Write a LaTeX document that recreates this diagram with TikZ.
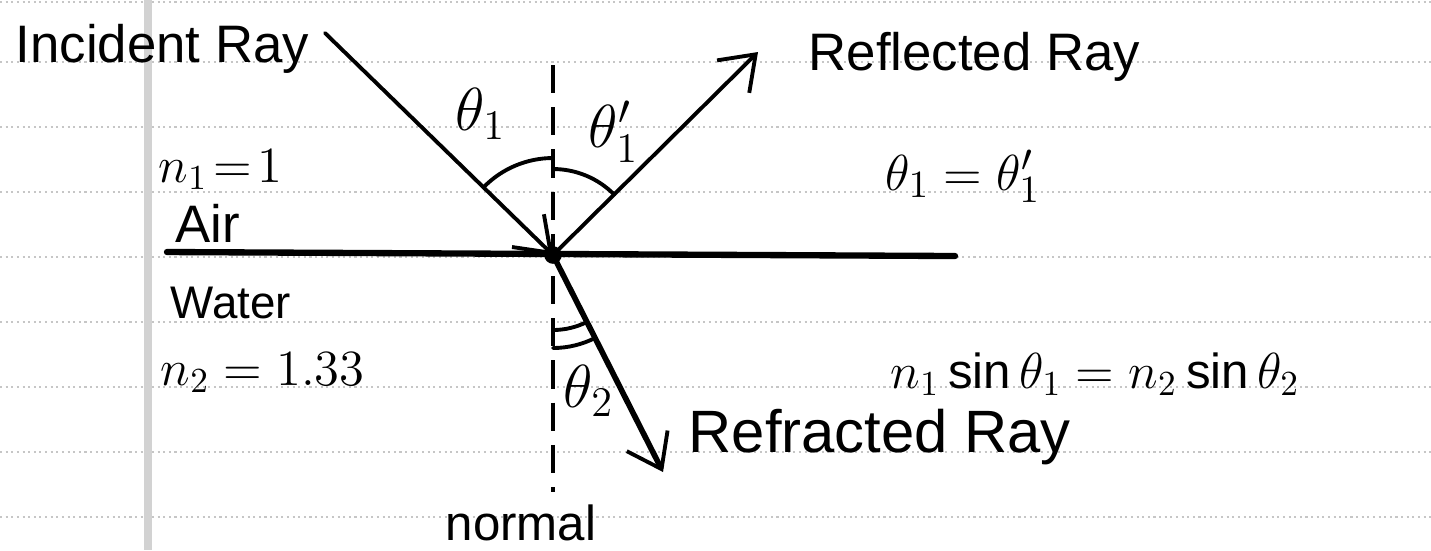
\documentclass[tikz,border=0pt]{standalone}
\usepackage{fontspec}
\setmainfont{Liberation Sans}
\usetikzlibrary{arrows.meta}
\begin{document}
\begin{tikzpicture}[x=0.01cm,y=-0.01cm,
  rule/.style={gray!45, line width=0.6pt, densely dotted},
  margin/.style={gray!35, line width=2.4pt},
  pen/.style={black, line width=1.1pt, line cap=round, line join=round},
  ray/.style={pen, -{Straight Barb[length=9pt,width=13pt,line width=1.1pt]}},
  normalline/.style={black, line width=0.9pt, dash pattern=on 8pt off 4pt},
  lbl/.style={inner sep=0pt, anchor=base west},
  fs/.style={font=\fontsize{#1}{#1}\selectfont},
]
\useasboundingbox (0,0) rectangle (1431,550);
\fill[white] (0,0) rectangle (1431,550);
% notebook paper
\foreach \yy in {2,62,127,192,257,322,387,452,517}
  \draw[rule] (0,\yy) -- (1431,\yy);
\draw[margin] (148,0) -- (148,550);

% geometry
\coordinate (O) at (553,255);
\coordinate (incS) at (325,33);
\coordinate (refE) at (758,52);
\coordinate (refrE) at (663,472);
\coordinate (nTop) at (553,65);
\coordinate (nBot) at (553,492);
\coordinate (ifL) at (167,252);
\coordinate (ifR) at (955,256);

% interface and normal
\draw[pen, line width=1.8pt] (ifL) -- (ifR);
\draw[normalline] (nTop) -- (nBot);

% rays
\draw[ray] (incS) -- (O);
\draw[ray] (O) -- (refE);
\draw[ray, line width=1.6pt] (O) -- (refrE);
\fill (O) circle (2.5pt);

% angle arcs
\draw[pen] (O) ++(-135.8:97) arc[start angle=-135.8, end angle=-90, radius=97];
\draw[pen] (O) ++(-90:86) arc[start angle=-90, end angle=-44.7, radius=86];
\draw[pen] (O) ++(90:75) arc[start angle=90, end angle=63.1, radius=75];
\draw[pen] (O) ++(90:93) arc[start angle=90, end angle=63.1, radius=93];

% labels
\node[lbl, fs=15] (tInc) at (15,62) {Incident Ray};
\node[lbl, fs=15] (tRefl) at (808,70) {Reflected Ray};
\node[lbl, fs=17] (tRefr) at (688,452) {Refracted Ray};
\node[lbl, fs=14] (tNorm) at (445,540) {normal};
\node[lbl, fs=14] (tN1) at (158,182) {$n_1 \!=\! 1$};
\node[lbl, fs=15] (tAir) at (175,242) {Air};
\node[lbl, fs=13] (tWater) at (170,318) {Water};
\node[lbl, fs=14] (tN2) at (160,385) {$n_2 = 1.33$};
\node[lbl, fs=15] (tEq1) at (885,190) {$\theta_1 = \theta_1'$};
\node[lbl, fs=14] (tSnell) at (890,388) {$n_1 \sin\theta_1 = n_2 \sin\theta_2$};
\node[lbl, fs=18] (tTh1) at (455,130) {$\theta_1$};
\node[lbl, fs=18] (tTh1p) at (588,147) {$\theta_1'$};
\node[lbl, fs=18] (tTh2) at (563,407) {$\theta_2$};
\end{tikzpicture}
\end{document}
